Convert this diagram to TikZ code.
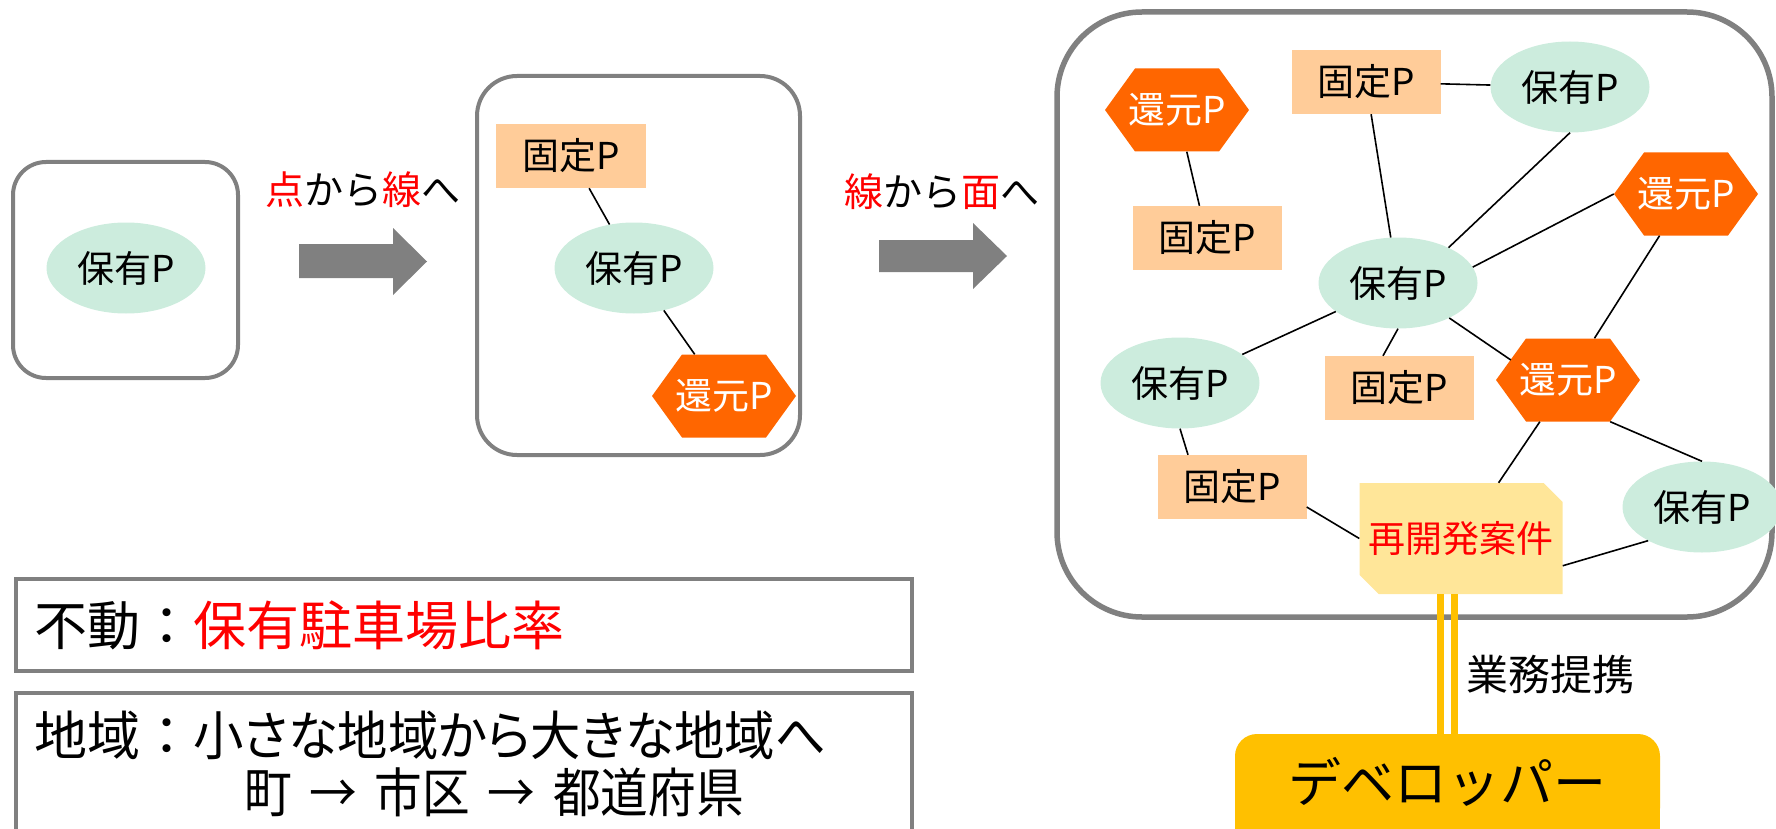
\documentclass[tikz,border=0pt]{standalone}
\usepackage{fontspec}
\setmainfont{Noto Sans CJK JP}
\newfontfamily\paltfamily[RawFeature=+palt, FakeStretch=0.95]{Noto Sans CJK JP}
\newfontfamily\narrowfamily[FakeStretch=0.9]{Noto Sans CJK JP}
\usetikzlibrary{shapes.geometric,calc}
\definecolor{boxgray}{RGB}{128,128,128}
\definecolor{holdgreen}{RGB}{204,236,221}
\definecolor{fixpeach}{RGB}{255,204,153}
\definecolor{backorange}{RGB}{255,102,0}
\definecolor{casecream}{RGB}{255,230,153}
\definecolor{devyellow}{RGB}{255,192,0}
\newcommand{\pfont}{\fontsize{37}{40}\selectfont}
\newcommand{\stepfont}{\fontsize{39}{44}\selectfont}
\newcommand{\notefont}{\fontsize{53}{57}\selectfont}
\newcommand{\tiefont}{\fontsize{42}{46}\selectfont}
\begin{document}
\begin{tikzpicture}[x=1pt, y=-1pt,
  holdp/.style={ellipse, fill=holdgreen, minimum width=159pt, minimum height=91pt, inner sep=0pt, font=\pfont},
  fixp/.style={rectangle, fill=fixpeach, minimum width=149pt, minimum height=64pt, inner sep=0pt, font=\pfont},
  retp/.style={rectangle, minimum width=144pt, minimum height=83pt, inner sep=0pt, text=white, font=\pfont,
    path picture={\fill[backorange] (path picture bounding box.west) -- ([xshift=30pt]path picture bounding box.north west)
      -- ([xshift=-30pt]path picture bounding box.north east) -- (path picture bounding box.east)
      -- ([xshift=-30pt]path picture bounding box.south east) -- ([xshift=30pt]path picture bounding box.south west) -- cycle;}},
  casebox/.style={rectangle, minimum width=203pt, minimum height=111pt, inner sep=0pt, text=red, font=\pfont,
    path picture={\fill[casecream] (path picture bounding box.north west) -- ([xshift=-19pt]path picture bounding box.north east)
      -- ([yshift=-19pt]path picture bounding box.north east) -- (path picture bounding box.south east)
      -- ([xshift=19pt]path picture bounding box.south west) -- ([yshift=19pt]path picture bounding box.south west) -- cycle;}},
  devbox/.style={rectangle, fill=devyellow, rounded corners=22pt, minimum width=425pt, minimum height=96pt, font=\notefont},
  notebox/.style={rectangle, draw=boxgray, line width=4pt, text width=860pt, inner xsep=18pt, align=left, font=\notefont},
  groupbox/.style={draw=boxgray, line width=4pt, rounded corners=#1},
  link/.style={line width=1.6pt},
  tie/.style={draw=devyellow, line width=7pt}]
\useasboundingbox (0,0) rectangle (1776,829);
\clip (0,0) rectangle (1776,829);

\draw[groupbox=33pt] (13,162) rectangle (238,378);
\node[holdp] (h1) at (126,268) {保有P};

\fill[boxgray] (299,244) -- (393,244) -- (393,228) -- (427,261.5) -- (393,295) -- (393,278) -- (299,278) -- cycle;
\node[font=\stepfont] (step1) at (363,190) {\textcolor{red}{点}から\textcolor{red}{線}へ};

\draw[groupbox=40pt] (477,76) rectangle (800,455);
\node[fixp, minimum width=150pt] (f2) at (571,156) {固定P};
\node[holdp] (h2) at (634,268) {保有P};
\node[retp] (r2) at (724,396) {還元P};
\draw[link] (f2) -- (h2);
\draw[link] (h2) -- (r2);

\fill[boxgray] (879,240) -- (973,240) -- (973,223) -- (1007,256) -- (973,289) -- (973,272) -- (879,272) -- cycle;
\node[font=\stepfont] (step2) at (942,192) {\textcolor{red}{線}から\textcolor{red}{面}へ};

\draw[groupbox=85pt, line width=5.5pt] (1057,12) rectangle (1772,617);
\node[retp] (r3a) at (1177,110) {還元P};
\node[fixp] (f3a) at (1366,82) {固定P};
\node[holdp] (h3a) at (1570,87) {保有P};
\node[fixp] (f3b) at (1207,238) {固定P};
\node[retp] (r3b) at (1686,194) {還元P};
\node[holdp] (h3b) at (1398,283) {保有P};
\node[holdp] (h3c) at (1180,383) {保有P};
\node[fixp] (f3c) at (1399,388) {固定P};
\node[retp] (r3c) at (1568,380) {還元P};
\node[fixp] (f3d) at (1232,487) {固定P};
\node[holdp] (h3d) at (1702,507) {保有P};
\node[casebox] (case) at (1461,538.5) {再開発案件};
\draw[link] (r3a) -- (f3b);
\draw[link] (f3a) -- (h3a);
\draw[link] (f3a) -- (h3b);
\draw[link] (h3a.south) -- (h3b.35);
\draw[link] (r3b.west) -- (h3b.12);
\draw[link] (r3b) -- (r3c);
\draw[link] (h3b) -- (h3c);
\draw[link] (h3b.south) -- ($(f3c.north)+(-16,0)$);
\draw[link] (h3b) -- ($(r3c.west)+(15,-20)$);
\draw[link] (h3c.south) -- ($(f3d.north)+(-44,0)$);
\draw[link] (r3c) -- (case);
\draw[link] ($(r3c.south east)+(-30,0)$) -- (h3d.north);
\draw[link] (f3d.-15) -- (case.west);
\draw[link] (case.-15) -- (h3d.212);

\fill[devyellow] (1235,782) rectangle (1660,850);
\node[devbox] (dev) at (1447.5,782) {デベロッパー};
\draw[tie] ([xshift=-20.5pt]case.south) -- ([xshift=-20.5pt]case.south |- dev.north);
\draw[tie] ([xshift=-6.5pt]case.south) -- ([xshift=-6.5pt]case.south |- dev.north);
\node[font=\tiefont] (tietext) at (1550,675) {業務提携};

\node[notebox, minimum height=92pt] (rate) at (464,625) {不動：\textcolor{red}{保有駐車場比率}};
\node[notebox, minimum height=142pt] (area) at (464,764) {地域：{\paltfamily 小さな地域から大きな地域へ}\\\hspace*{210pt}{\narrowfamily 町 → 市区 → 都道府県}};
\end{tikzpicture}
\end{document}
